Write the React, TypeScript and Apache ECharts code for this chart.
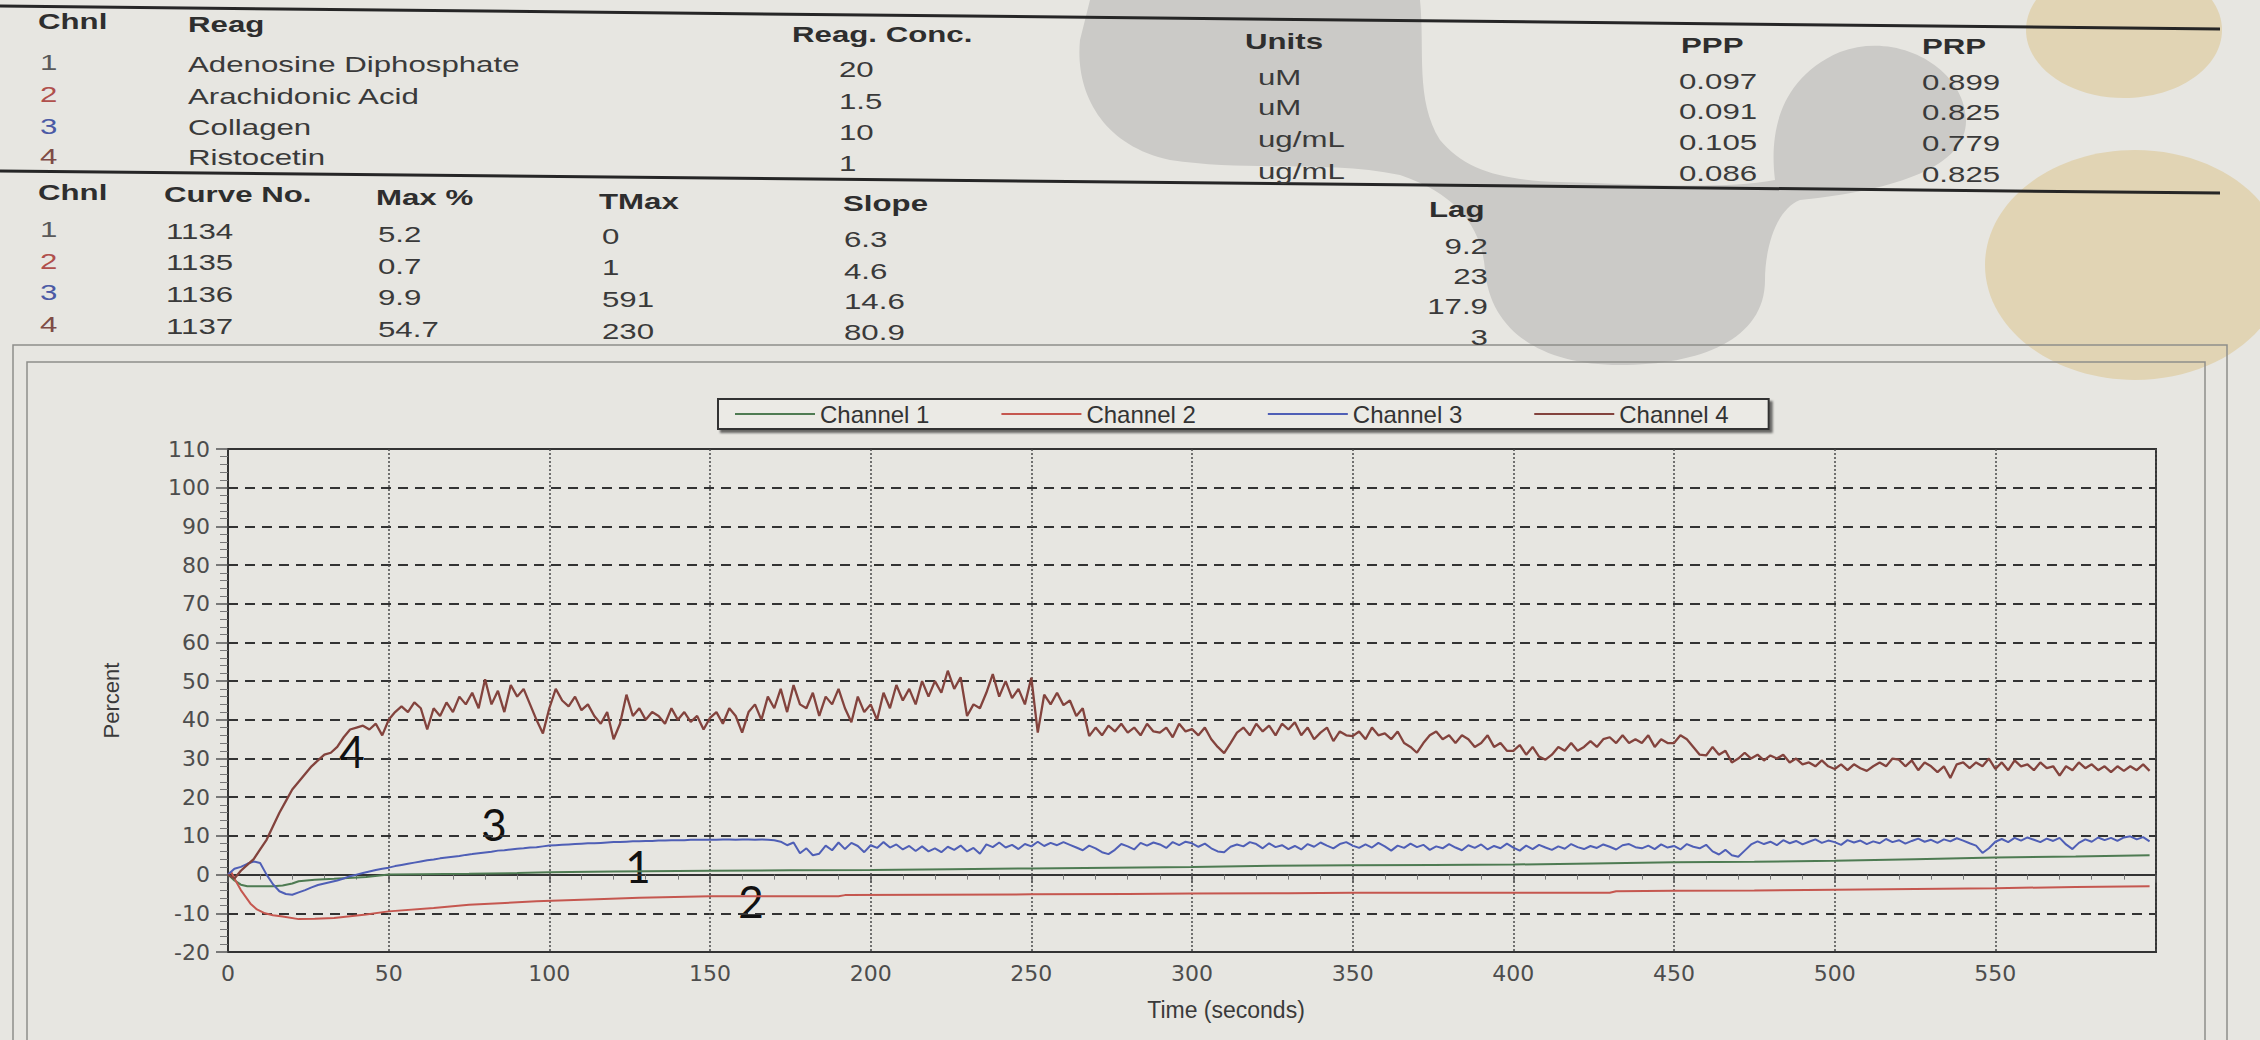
import React, { useEffect, useRef } from "react";
import * as echarts from "echarts";

// ---------------- data ----------------
const CHANNELS = ["Channel 1", "Channel 2", "Channel 3", "Channel 4"];

// Channel 1 (ADP)
const CH1_T = [0, 2, 4, 6, 10, 14, 17, 20, 22, 27, 33, 43, 50, 60, 75, 90, 100, 120, 150, 175, 200, 225, 250, 275, 300, 325, 350, 375, 400, 425, 450, 475, 500, 525, 550, 575, 598];
const CH1_V = [0, -1.5, -2.6, -3, -3, -3, -2.8, -2.3, -1.7, -1.3, -1.1, -0.6, 0, 0.1, 0.2, 0.4, 0.6, 0.8, 1, 1.1, 1.2, 1.4, 1.6, 1.8, 2, 2.3, 2.4, 2.5, 2.6, 2.9, 3.2, 3.3, 3.6, 4, 4.4, 4.7, 5];

// Channel 2 (Arachidonic acid)
const CH2_T = [0, 1, 2, 4, 7, 9, 11.5, 14, 17, 22, 27, 33, 43, 50, 64, 75, 96, 117, 128, 150, 170, 190, 192, 220, 250, 280, 300, 330, 350, 380, 400, 430, 432, 450, 475, 500, 525, 550, 575, 598];
const CH2_V = [0, 0.7, -1, -4, -7.5, -9, -10, -10.5, -10.8, -11.5, -11.4, -11.2, -10.3, -9.5, -8.6, -7.8, -6.9, -6.3, -6, -5.6, -5.6, -5.6, -5.3, -5.2, -5.1, -5, -4.9, -4.8, -4.7, -4.7, -4.7, -4.7, -4.3, -4.2, -4.1, -3.9, -3.7, -3.5, -3.2, -3];

// Channels 3 and 4 sampled every 2 s (0..598)
const SAMPLE_STEP = 2;
const CH3_V = [
  0, 1.5, 2, 2.8, 3.4, 3, 0, -2.5, -4.3, -5,
  -5.2, -4.6, -4, -3.3, -2.7, -2.3, -1.9, -1.5, -1, -0.4,
  0, 0.4, 0.8, 1.2, 1.5, 1.8, 2.2, 2.5, 2.8, 3.1,
  3.4, 3.7, 3.9, 4.2, 4.4, 4.6, 4.8, 5.1, 5.3, 5.5,
  5.7, 5.9, 6.2, 6.3, 6.5, 6.7, 6.8, 7, 7.1, 7.3,
  7.5, 7.6, 7.7, 7.8, 7.9, 8, 8.1, 8.1, 8.2, 8.3,
  8.4, 8.4, 8.5, 8.6, 8.6, 8.7, 8.7, 8.8, 8.8, 8.9,
  8.9, 8.9, 9, 9, 9, 9, 9, 9.1, 9.1, 9,
  9.1, 9.1, 9, 9.1, 9, 8.9, 8.5, 7.6, 8.3, 5.5,
  6.8, 5, 5.4, 7.5, 6.3, 8.3, 6.6, 8.2, 7.4, 5.8,
  7.6, 6.9, 8.4, 7, 7.8, 6.5, 7.4, 6.1, 7.3, 6,
  6.8, 5.8, 7.2, 6.4, 7.5, 6, 6.9, 5.4, 7.8, 7.1,
  8.3, 7, 7.7, 6.6, 7.9, 7.3, 8.5, 7.4, 8.2, 7.6,
  8.4, 7.7, 7, 6.3, 7.5, 6.8, 5.8, 5.3, 6.4, 7.9,
  7.3, 6.5, 8.2, 7.5, 8.3, 7.8, 6.9, 8.4, 7.6, 8.5,
  8.1, 7.2, 8, 6.8, 6, 5.8, 7.2, 7.8, 7.3, 8.4,
  7.9, 6.8, 8.1, 7.1, 7.6, 6.6, 7.4, 6.5, 7.9, 7.2,
  8.3, 7.5, 6.8, 7.9, 8.4, 7.5, 6.9, 7.8, 7, 8.2,
  7.3, 6.2, 7.5, 6.9, 8, 7.1, 7.7, 6.4, 7.3, 6.8,
  7.9, 7, 6.3, 7.6, 6.9, 7.8, 6.5, 7.4, 6.8, 8,
  7, 6.2, 7.5, 6.6, 7.7, 7, 6.4, 7.3, 6.7, 7.9,
  7.1, 6.6, 7.4, 6.9, 7.8, 7.2, 6.5, 7.6, 7.9, 7.1,
  6.8, 7.5, 6.6, 7.8, 7, 7.4, 6.5, 7.9, 7.2, 6.8,
  7.7, 6, 5.2, 6.4, 5, 4.6, 6.2, 7.8, 8.6, 7.9,
  8.5, 7.6, 8.9, 8.1, 8.7, 7.8, 8.5, 9.1, 8.2, 8.8,
  8.4, 7.7, 8.9, 8.3, 8.8, 7.9, 8.6, 8.1, 9.2, 8.4,
  8.9, 8, 8.7, 9.3, 8.5, 9, 8.2, 9.1, 8.6, 9.4,
  8.8, 8.1, 7.5, 5.6, 6.8, 8.5, 9.2, 8.4, 9.5, 8.8,
  9.6, 9, 8.4, 9.3, 8.7, 9.5, 7.8, 6.6, 8.2, 9.1,
  8.5, 9.6, 8.9, 9.5, 8.7, 9.6, 9.9, 9.1, 9.7, 8.6,
];
const CH4_V = [
  0, -1, 1, 2.5, 4, 6.5, 9, 12.5, 16, 19,
  22, 24, 26, 28, 29.5, 31, 31.5, 33, 35.5, 37.5,
  38, 38.5, 37.5, 39, 36, 40, 42, 43.5, 42, 44.5,
  43, 37.5, 43, 41, 44.5, 42, 46, 44, 47, 43,
  50.5, 44, 47.5, 42, 49, 46, 48, 44, 40, 36.5,
  43, 48, 45, 43.5, 46, 42.5, 44, 41, 39, 42,
  35, 39, 46.5, 41, 43, 40, 42, 41, 39, 43,
  40, 42, 39.5, 41, 37.5, 40.5, 42, 39, 43, 41,
  36.7, 42, 44, 40, 46, 43, 48, 42, 49, 44,
  43, 47, 41, 46, 44, 48, 43, 39.4, 46, 42,
  44, 40, 47, 43, 49, 45, 48, 44, 50, 46,
  50, 47, 52.7, 48, 51, 41, 44, 43, 47, 51.8,
  46, 50, 45.6, 48, 44, 50.9, 36.7, 46.5, 44, 47,
  43.8, 45, 41, 43, 35.8, 38, 36, 38.5, 37, 39,
  36.7, 38, 36, 39, 37, 36.7, 38, 35.5, 39, 37,
  37.6, 36, 38, 35, 33, 31.4, 34, 36.7, 38, 36,
  39, 37, 38.5, 36, 39, 37.5, 39.4, 36, 38, 35,
  36.7, 38, 34.5, 37, 36, 35.8, 37, 35, 38, 36,
  36.5, 35, 37, 34, 33, 31.5, 34, 36, 37, 35,
  36, 34, 36, 35, 33, 34, 36, 33, 34, 32,
  32, 33.5, 31, 33, 30.5, 29.7, 31, 33, 32, 34,
  32, 33, 34.5, 33, 35, 35.5, 34, 36, 34, 35,
  34, 36, 33, 35, 34, 34, 36, 35, 33, 31,
  30.8, 33, 31, 32, 29, 30, 31.5, 30, 31, 29.5,
  30.8, 30, 31, 29, 30, 28.5, 29, 28, 29.5, 28,
  27.3, 28.5, 27, 28.5, 27.5, 26.8, 28, 29, 28, 30,
  29.7, 28, 29.5, 27, 29, 28, 26.5, 28, 25, 28.5,
  29, 27.5, 29, 28, 30, 27.3, 29, 27, 29.5, 28,
  28.5, 27, 29, 27.5, 28, 25.6, 28, 27, 29, 27.5,
  28.5, 27, 28, 26.5, 28, 26.8, 28, 27, 28.5, 26.8,
];

// Curve annotations written on the print
const CURVE_MARKS = ["4", "3", "1", "2"];

// Report tables
const REAG_HEADERS = ["Chnl", "Reag", "Reag. Conc.", "Units", "PPP", "PRP"];
const CHNL_NUMS = ["1", "2", "3", "4"];
const REAGENTS = ["Adenosine Diphosphate", "Arachidonic Acid", "Collagen", "Ristocetin"];
const CONC = ["20", "1.5", "10", "1"];
const UNITS = ["uM", "uM", "ug/mL", "ug/mL"];
const PPP = ["0.097", "0.091", "0.105", "0.086"];
const PRP = ["0.899", "0.825", "0.779", "0.825"];
const RES_HEADERS = ["Chnl", "Curve No.", "Max %", "TMax", "Slope", "Lag"];
const CURVE_NO = ["1134", "1135", "1136", "1137"];
const MAX_PCT = ["5.2", "0.7", "9.9", "54.7"];
const TMAX = ["0", "1", "591", "230"];
const SLOPE = ["6.3", "4.6", "14.6", "80.9"];
const LAG = ["9.2", "23", "17.9", "3"];

// ---------------- styling / layout ----------------
const LINE_COLORS = ["#4e7b52", "#c5574f", "#4f5fb6", "#83433d"];
const NUM_COLORS = ["#5a5a5a", "#b0504c", "#4b5aa5", "#7e4b46"];
const TEXT_FONT = '"Liberation Sans", Arial, sans-serif';
const STRETCH = 1.42;

const BLOB_D =
  "M1090 0 L1420 0 C1425 50 1415 100 1440 140 C1465 170 1500 180 1560 182 " +
  "C1640 184 1720 190 1775 180 C1770 140 1775 80 1840 52 C1900 30 1965 70 1966 120 " +
  "C1967 165 1900 190 1800 200 C1775 210 1765 250 1765 280 C1765 340 1700 365 1620 365 " +
  "C1540 365 1490 330 1485 270 C1482 230 1460 195 1400 175 C1330 160 1250 172 1170 160 " +
  "C1100 145 1075 90 1080 40 Z";

let blobRegistered = false;
function ensureBlob() {
  if (blobRegistered) return;
  echarts.graphic.registerShape("blob", echarts.graphic.extendPath(BLOB_D, {}));
  blobRegistered = true;
}

function txt(text: string, x: number, y: number, opt: any = {}) {
  return {
    type: "text",
    x,
    y,
    scaleX: opt.scaleX ?? STRETCH,
    silent: true,
    style: {
      text,
      fill: opt.fill ?? "#3a3a3a",
      fontSize: opt.fontSize ?? 22,
      fontFamily: opt.fontFamily ?? TEXT_FONT,
      fontWeight: opt.bold ? "bold" : "normal",
      textAlign: opt.align ?? "left",
      textVerticalAlign: "middle",
    },
  };
}

function buildGraphics() {
  const els: any[] = [];
  // watermark shapes on the paper
  els.push({ type: "blob", x: 0, y: 0, scaleX: 1, scaleY: 1, silent: true, style: { fill: "#cbcac7" } });
  els.push({ type: "ellipse", silent: true, shape: { cx: 2124, cy: 30, rx: 98, ry: 68 }, style: { fill: "#e1d4b4" } });
  els.push({ type: "ellipse", silent: true, shape: { cx: 2135, cy: 265, rx: 150, ry: 115 }, style: { fill: "#e1d4b4" } });

  // table rules
  els.push({ type: "line", silent: true, shape: { x1: 0, y1: 6, x2: 2220, y2: 29 }, style: { stroke: "#262626", lineWidth: 3 } });
  els.push({ type: "line", silent: true, shape: { x1: 0, y1: 171, x2: 2220, y2: 193 }, style: { stroke: "#262626", lineWidth: 3 } });

  // chart frames
  els.push({ type: "rect", silent: true, shape: { x: 13, y: 345, width: 2214, height: 720 }, style: { fill: null, stroke: "#8e8e8b", lineWidth: 1.5 } });
  els.push({ type: "rect", silent: true, shape: { x: 27, y: 362, width: 2178, height: 700 }, style: { fill: null, stroke: "#8e8e8b", lineWidth: 1.5 } });

  // reagent table
  const h1 = [[38, 22], [188, 25], [792, 35], [1245, 42], [1681, 46], [1922, 47]];
  REAG_HEADERS.forEach((h, i) => els.push(txt(h, h1[i][0], h1[i][1], { bold: true, fill: "#2e2e2e" })));
  const yChnl = [63, 95, 127, 157];
  const yName = [65, 97, 128, 158];
  const yConc = [70, 102, 133, 164];
  const yUnit = [78, 108, 140, 172];
  const yPPP = [82, 112, 143, 174];
  const yPRP = [83, 113, 144, 175];
  for (let i = 0; i < 4; i++) {
    els.push(txt(CHNL_NUMS[i], 40, yChnl[i], { fill: NUM_COLORS[i] }));
    els.push(txt(REAGENTS[i], 188, yName[i]));
    els.push(txt(CONC[i], 839, yConc[i]));
    els.push(txt(UNITS[i], 1258, yUnit[i]));
    els.push(txt(PPP[i], 1679, yPPP[i]));
    els.push(txt(PRP[i], 1922, yPRP[i]));
  }

  // results table
  const h2 = [[38, 193], [164, 195], [376, 198], [599, 202], [843, 204], [1429, 210]];
  RES_HEADERS.forEach((h, i) => els.push(txt(h, h2[i][0], h2[i][1], { bold: true, fill: "#2e2e2e" })));
  const r2Chnl = [230, 262, 293, 325];
  const r2Curve = [232, 263, 295, 327];
  const r2Max = [235, 267, 298, 330];
  const r2TMax = [237, 268, 300, 332];
  const r2Slope = [240, 272, 302, 333];
  const r2Lag = [247, 277, 307, 338];
  for (let i = 0; i < 4; i++) {
    els.push(txt(CHNL_NUMS[i], 40, r2Chnl[i], { fill: NUM_COLORS[i] }));
    els.push(txt(CURVE_NO[i], 166, r2Curve[i]));
    els.push(txt(MAX_PCT[i], 378, r2Max[i]));
    els.push(txt(TMAX[i], 602, r2TMax[i]));
    els.push(txt(SLOPE[i], 844, r2Slope[i]));
    els.push(txt(LAG[i], 1488, r2Lag[i], { align: "right" }));
  }

  // handwritten-style curve numbers
  const markPos = [[352, 751], [494, 824], [638, 866], [751, 901]];
  CURVE_MARKS.forEach((m, i) =>
    els.push(
      txt(m, markPos[i][0], markPos[i][1], {
        scaleX: 1,
        fontSize: 44,
        fontFamily: "Lato, 'Open Sans', sans-serif",
        fill: "#111111",
        align: "center",
      })
    )
  );
  return els;
}

function pairs(ts: number[], vs: number[]) {
  return ts.map((t, i) => [t, vs[i]]);
}

export default function App() {
  const ref = useRef<HTMLDivElement>(null);

  useEffect(() => {
    if (!ref.current) return;
    ensureBlob();
    const chart = echarts.init(ref.current, undefined, { renderer: "svg" });

    const sampledT = CH4_V.map((_, i) => i * SAMPLE_STEP);
    const seriesData = [
      pairs(CH1_T, CH1_V),
      pairs(CH2_T, CH2_V),
      pairs(sampledT, CH3_V),
      pairs(sampledT, CH4_V),
    ];

    chart.setOption({
      animation: false,
      backgroundColor: "#e7e6e1",
      color: LINE_COLORS,
      graphic: { elements: buildGraphics() },
      legend: {
        data: CHANNELS,
        left: 718,
        top: 399,
        icon: "rect",
        itemWidth: 80,
        itemHeight: 2,
        itemGap: 72,
        padding: [3, 40, 3, 17],
        borderColor: "#333333",
        borderWidth: 2,
        backgroundColor: "#ebeae5",
        shadowColor: "rgba(0,0,0,0.55)",
        shadowBlur: 2,
        shadowOffsetX: 3,
        shadowOffsetY: 3,
        textStyle: { color: "#333333", fontSize: 24, fontFamily: TEXT_FONT },
      },
      grid: {
        left: 228,
        right: 104,
        top: 449,
        bottom: 88,
        show: true,
        borderColor: "#333333",
        borderWidth: 2,
        backgroundColor: "transparent",
      },
      xAxis: {
        type: "value",
        min: 0,
        max: 600,
        interval: 50,
        name: "Time (seconds)",
        nameLocation: "middle",
        nameGap: 46,
        nameTextStyle: { color: "#3a3a3a", fontSize: 23, fontFamily: TEXT_FONT, padding: [0, 0, 0, 68] },
        axisLine: { show: true, lineStyle: { color: "#333333", width: 2 } },
        axisTick: { show: true, length: 8, lineStyle: { color: "#555555", width: 1.5 } },
        minorTick: { show: true, splitNumber: 5, length: 5, lineStyle: { color: "#777777" } },
        axisLabel: {
          showMaxLabel: false,
          margin: 10,
          color: "#4d4d4d",
          fontSize: 22,
          fontFamily: '"DejaVu Sans", sans-serif',
        },
        splitLine: { show: true, lineStyle: { color: "#4a4a4a", type: [2, 2], width: 1.5 } },
      },
      yAxis: {
        type: "value",
        min: -20,
        max: 110,
        interval: 10,
        name: "Percent",
        nameLocation: "middle",
        nameRotate: 90,
        nameGap: 106,
        nameTextStyle: { color: "#3a3a3a", fontSize: 22, fontFamily: TEXT_FONT },
        axisLine: { show: true, lineStyle: { color: "#333333", width: 2 } },
        axisTick: { show: true, length: 12, lineStyle: { color: "#555555", width: 1.5 } },
        minorTick: { show: true, splitNumber: 5, length: 8, lineStyle: { color: "#777777" } },
        axisLabel: {
          margin: 18,
          color: "#4d4d4d",
          fontSize: 22,
          fontFamily: '"DejaVu Sans", sans-serif',
        },
        splitLine: { show: true, lineStyle: { color: "#333333", type: [10, 7], width: 1.8 } },
      },
      series: CHANNELS.map((name, i) => ({
        name,
        type: "line",
        data: seriesData[i],
        showSymbol: false,
        symbol: "none",
        lineStyle: { width: i === 3 ? 2.3 : 2, color: LINE_COLORS[i] },
        itemStyle: { color: LINE_COLORS[i] },
        z: 3 + i,
      })),
    });

    return () => chart.dispose();
  }, []);

  return (
    <div
      ref={ref}
      style={{ position: "absolute", left: 0, top: 0, width: 2260, height: 1040 }}
    />
  );
}
